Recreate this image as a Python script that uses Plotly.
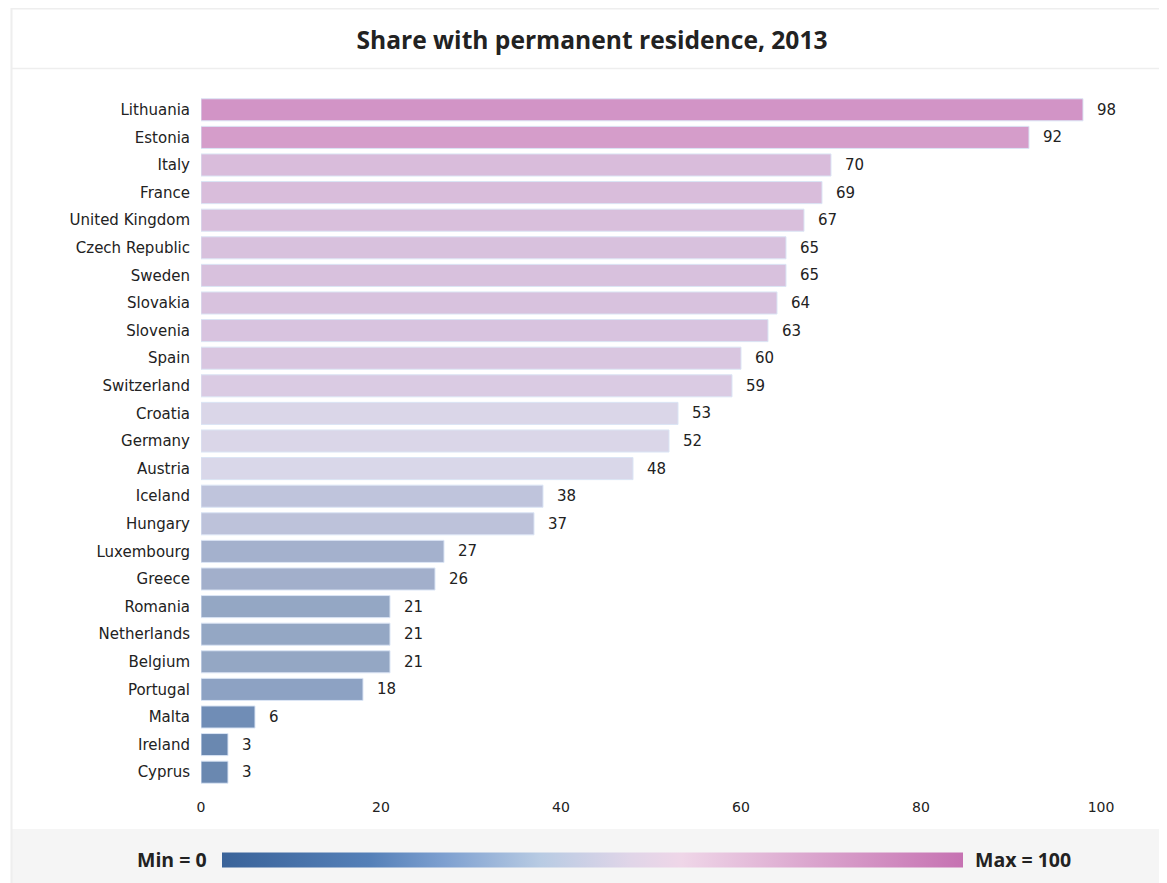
import plotly.graph_objects as go

countries = ["Lithuania", "Estonia", "Italy", "France", "United Kingdom", "Czech Republic",
             "Sweden", "Slovakia", "Slovenia", "Spain", "Switzerland", "Croatia", "Germany",
             "Austria", "Iceland", "Hungary", "Luxembourg", "Greece", "Romania", "Netherlands",
             "Belgium", "Portugal", "Malta", "Ireland", "Cyprus"]
values = [98, 92, 70, 69, 67, 65, 65, 64, 63, 60, 59, 53, 52, 48, 38, 37, 27, 26, 21, 21, 21, 18, 6, 3, 3]
x_ticks = [0, 20, 40, 60, 80, 100]
title_text = "Share with permanent residence, 2013"
min_label = "Min = 0"
max_label = "Max = 100"

# colour scale of the legend bar
legend_colorscale = [
    [0.0, "#3a6399"],
    [0.2, "#5580b8"],
    [0.3, "#7ea0d0"],
    [0.43, "#b8cbe3"],
    [0.55, "#e0d5e8"],
    [0.62, "#efd6e8"],
    [0.8, "#daa4cd"],
    [1.0, "#c672b2"],
]
# softer colour scale used for the bars
bar_colorscale = [
    [0.0, "#6684ad"],
    [0.03, "#6a88b0"],
    [0.06, "#708db6"],
    [0.18, "#8da2c3"],
    [0.21, "#94a7c4"],
    [0.265, "#a3b0cc"],
    [0.375, "#bec3db"],
    [0.48, "#d9d7e9"],
    [0.53, "#dad6e8"],
    [0.59, "#dacbe3"],
    [0.60, "#d9c6e0"],
    [0.64, "#d8c2de"],
    [0.69, "#d9bddb"],
    [0.70, "#d9bcdb"],
    [0.92, "#d59dca"],
    [0.98, "#d294c6"],
    [1.0, "#d191c4"],
]

W, H = 1159, 875
L, R, T, B = 193, 66, 88, 97
pw, ph = W - L - R, H - T - B

def px(x):
    return (x - L) / pw

def py(y):
    return (H - B - y) / ph

fig = go.Figure()
fig.add_trace(go.Bar(
    y=countries, x=values, orientation="h",
    marker=dict(
        color=values, colorscale=bar_colorscale, cmin=0, cmax=100, showscale=False,
        line=dict(color="#dbe5f5", width=1),
    ),
    text=values, texttemplate="\u00a0\u00a0\u200a%{x}", textposition="outside",
    textfont=dict(family="DejaVu Sans", size=15, color="#222"),
    cliponaxis=False, hoverinfo="x+y",
))
# legend colour bar
fig.add_trace(go.Scatter(
    x=[None], y=[None], mode="markers", hoverinfo="skip",
    marker=dict(
        color=[0], colorscale=legend_colorscale, cmin=0, cmax=100, showscale=True,
        colorbar=dict(
            orientation="h", x=px(214), xanchor="left", y=py(851.5), yanchor="middle",
            len=741, lenmode="pixels", thickness=15, thicknessmode="pixels",
            showticklabels=False, ticks="", outlinewidth=0, xpad=0, ypad=0,
        ),
    ),
))

shapes = [
    dict(type="rect", xref="paper", yref="paper", x0=px(4), x1=px(1180), y0=py(821), y1=py(900),
         fillcolor="#f5f5f5", line=dict(width=0), layer="below"),
    dict(type="line", xref="paper", yref="paper", x0=px(3), x1=px(1180), y0=py(0.5), y1=py(0.5),
         line=dict(color="#eeeeee", width=2)),
    dict(type="line", xref="paper", yref="paper", x0=px(3.5), x1=px(3.5), y0=py(0), y1=py(900),
         line=dict(color="#eeeeee", width=2)),
    dict(type="line", xref="paper", yref="paper", x0=px(4), x1=px(1180), y0=py(60.5), y1=py(60.5),
         line=dict(color="#eeeeee", width=1.5)),
]

fig.update_layout(
    width=W, height=H, margin=dict(l=L, r=R, t=T, b=B),
    paper_bgcolor="white", plot_bgcolor="white", showlegend=False,
    bargap=0.2,
    title=dict(text=f"<b>{title_text}</b>", x=584 / W, xanchor="center", y=1 - 32 / H, yanchor="middle",
               xref="container", yref="container",
               font=dict(family="Open Sans", size=24.6, color="#222")),
    xaxis=dict(range=[0, 100], tickvals=x_ticks, showgrid=False, zeroline=False, showline=False,
               ticks="", tickfont=dict(family="DejaVu Sans", size=14, color="#222"),
               ticklabelstandoff=11, fixedrange=True),
    yaxis=dict(categoryorder="array", categoryarray=countries, autorange="reversed",
               showgrid=False, zeroline=False, showline=False, ticks="",
               tickfont=dict(family="DejaVu Sans", size=15, color="#222"),
               ticklabelstandoff=10, fixedrange=True),
    shapes=shapes,
    annotations=[
        dict(text=f"<b>{min_label}</b>", xref="paper", yref="paper", x=px(201), y=py(852),
             xanchor="right", yanchor="middle", showarrow=False,
             font=dict(family="Open Sans", size=19.5, color="#222")),
        dict(text=f"<b>{max_label}</b>", xref="paper", yref="paper", x=px(965), y=py(852),
             xanchor="left", yanchor="middle", showarrow=False,
             font=dict(family="Open Sans", size=19.5, color="#222")),
    ],
)

fig.write_html("out.html")
